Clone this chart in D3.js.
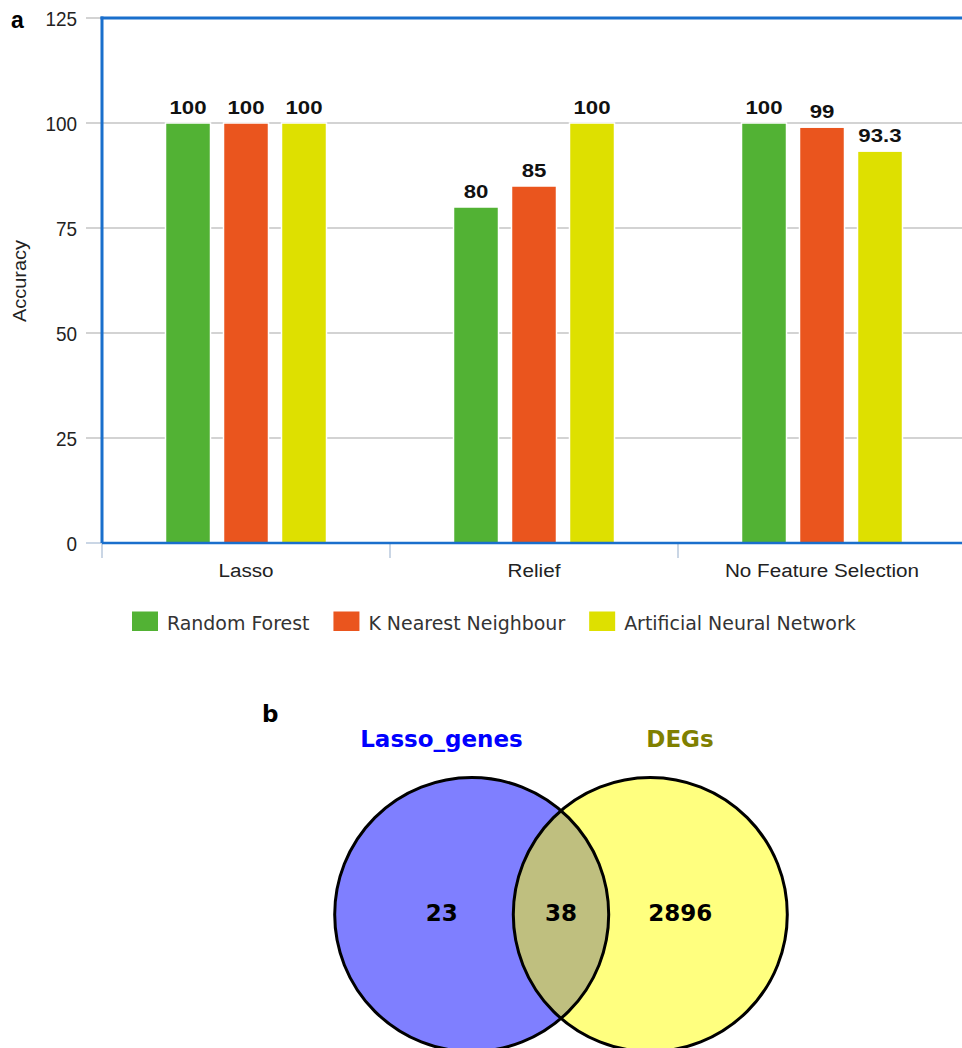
<!DOCTYPE html>
<html>
<head>
<meta charset="utf-8">
<script src="https://cdn.jsdelivr.net/npm/d3@7"></script>
<style>
  html, body { margin: 0; padding: 0; background: #fff; }
  svg { display: block; }
</style>
</head>
<body>
<svg id="fig" width="962" height="1048"></svg>
<script>
// ---- Panel a: classifier accuracy per feature-selection method ----
const categories = ["Lasso", "Relief", "No Feature Selection"];
const seriesNames = ["Random Forest", "K Nearest Neighbour", "Artificial Neural Network"];
const randomForest = [100, 80, 100];
const kNearestNeighbour = [100, 85, 99];
const artificialNeuralNetwork = [100, 100, 93.3];
const yTicks = [0, 25, 50, 75, 100, 125];

// ---- Panel b: Venn diagram of gene sets ----
const setNames = ["Lasso_genes", "DEGs"];
const setColors = ["#0000ff", "#ffff00"];
const setLabelColors = ["#0000ff", "#808000"];
const regionCounts = [23, 38, 2896]; // only Lasso, both, only DEGs

const seriesValues = [randomForest, kNearestNeighbour, artificialNeuralNetwork];
const seriesColors = ["#52b234", "#ea551e", "#dee000"];

const svg = d3.select("#fig");
const axisBlue = "#1a6fcc";
const sans = "Liberation Sans, Arial, sans-serif";

// stretch or squeeze a text's glyphs horizontally by a factor
function widen(sel, factor) {
  sel.each(function () {
    const w = this.getComputedTextLength();
    d3.select(this).attr("textLength", w * factor).attr("lengthAdjust", "spacingAndGlyphs");
  });
  return sel;
}

// plot frame
const plot = { left: 102, right: 966, top: 18, bottom: 543 };

const y = d3.scaleLinear().domain([0, 125]).range([plot.bottom, plot.top]);
const x0 = d3.scaleBand().domain(categories).range([plot.left, plot.right]).padding(0);
const groupW = 161;
const x1 = d3.scaleBand().domain(seriesNames)
  .range([(x0.bandwidth() - groupW) / 2, (x0.bandwidth() + groupW) / 2])
  .paddingInner(0.224).paddingOuter(0);

// gridlines (extend left of the frame as tick marks)
svg.append("g").selectAll("line").data(yTicks.filter(t => t > 0)).join("line")
  .attr("x1", 86).attr("x2", plot.right)
  .attr("y1", d => y(d)).attr("y2", d => y(d))
  .attr("stroke", "#c4c4c4").attr("stroke-width", 1.5);

// y tick labels
widen(svg.append("g").selectAll("text").data(yTicks).join("text")
  .attr("x", 77).attr("y", d => y(d))
  .attr("dy", "0.36em")
  .attr("text-anchor", "end")
  .attr("font-family", sans)
  .attr("font-size", 21).attr("fill", "#222")
  .text(d => d), 0.9);

// small tick at 0 left of the frame
svg.append("line").attr("x1", 86).attr("x2", plot.left)
  .attr("y1", y(0)).attr("y2", y(0))
  .attr("stroke", "#b8c8dc").attr("stroke-width", 1.5);

// category separator ticks below the axis
svg.append("g").selectAll("line").data(categories).join("line")
  .attr("x1", d => x0(d)).attr("x2", d => x0(d))
  .attr("y1", plot.bottom).attr("y2", plot.bottom + 15)
  .attr("stroke", "#b8c8dc").attr("stroke-width", 1.5);

// bars
const barData = [];
categories.forEach((c, ci) => seriesNames.forEach((s, si) =>
  barData.push({ c, s, v: seriesValues[si][ci], color: seriesColors[si] })));

const bars = svg.append("g");
bars.selectAll("rect").data(barData).join("rect")
  .attr("x", d => x0(d.c) + x1(d.s))
  .attr("y", d => y(d.v))
  .attr("width", x1.bandwidth())
  .attr("height", d => y(0) - y(d.v))
  .attr("fill", d => d.color)
  .attr("stroke", "#fff").attr("stroke-width", 1.5);

// value labels
widen(bars.selectAll("text").data(barData).join("text")
  .attr("x", d => x0(d.c) + x1(d.s) + x1.bandwidth() / 2)
  .attr("y", d => y(d.v) - 9.5)
  .attr("text-anchor", "middle")
  .attr("font-family", sans)
  .attr("font-weight", "bold")
  .attr("font-size", 18.5).attr("fill", "#111")
  .text(d => d.v), 1.2);

// blue frame: left, top, bottom
svg.append("line").attr("x1", plot.left).attr("x2", plot.left)
  .attr("y1", plot.top - 1.5).attr("y2", plot.bottom)
  .attr("stroke", axisBlue).attr("stroke-width", 3);
svg.append("line").attr("x1", plot.left - 1.5).attr("x2", plot.right)
  .attr("y1", plot.top).attr("y2", plot.top)
  .attr("stroke", axisBlue).attr("stroke-width", 3);
svg.append("line").attr("x1", plot.left).attr("x2", plot.right)
  .attr("y1", plot.bottom).attr("y2", plot.bottom)
  .attr("stroke", axisBlue).attr("stroke-width", 2.5);

// category labels
widen(svg.append("g").selectAll("text").data(categories).join("text")
  .attr("x", d => x0(d) + x0.bandwidth() / 2)
  .attr("y", 576.5)
  .attr("text-anchor", "middle")
  .attr("font-family", sans)
  .attr("font-size", 18.8).attr("fill", "#222")
  .text(d => d), 1.1);

// y axis title
widen(svg.append("text")
  .attr("transform", "translate(26,281) rotate(-90)")
  .attr("text-anchor", "middle")
  .attr("font-family", sans)
  .attr("font-size", 18.5).attr("fill", "#222")
  .text("Accuracy"), 1.08);

// panel letter a
svg.append("text").attr("x", 11).attr("y", 28)
  .attr("font-family", sans)
  .attr("font-weight", "bold").attr("font-size", 23).attr("fill", "#000")
  .text("a");

// legend
const legend = svg.append("g");
let lx = 132;
seriesNames.forEach((name, i) => {
  legend.append("rect").attr("x", lx).attr("y", 611.5)
    .attr("width", 26).attr("height", 19.5).attr("fill", seriesColors[i]);
  const t = legend.append("text").attr("x", lx + 35).attr("y", 629.5)
    .attr("font-family", "DejaVu Sans Condensed, DejaVu Sans, sans-serif")
    .style("font-stretch", "condensed")
    .attr("font-size", 19.5).attr("fill", "#333")
    .text(name);
  const w = t.node().getComputedTextLength() * 1.08;
  t.attr("textLength", w).attr("lengthAdjust", "spacingAndGlyphs");
  lx += 35 + w + 24;
});

// ---- Venn ----
const venn = { cx: 561, cy: 914.5, r: 137, half: 89.3 };
const centers = [venn.cx - venn.half, venn.cx + venn.half];

const vg = svg.append("g");
vg.selectAll("circle.fill").data(setNames).join("circle")
  .attr("class", "fill")
  .attr("cx", (d, i) => centers[i]).attr("cy", venn.cy).attr("r", venn.r)
  .attr("fill", (d, i) => setColors[i]).attr("fill-opacity", 0.5);
vg.selectAll("circle.edge").data(setNames).join("circle")
  .attr("class", "edge")
  .attr("cx", (d, i) => centers[i]).attr("cy", venn.cy).attr("r", venn.r)
  .attr("fill", "none").attr("stroke", "#000").attr("stroke-width", 3);

// region counts
const regionX = [centers[0] - 30, venn.cx, centers[1] + 30];
vg.selectAll("text.count").data(regionCounts).join("text")
  .attr("class", "count")
  .attr("x", (d, i) => regionX[i]).attr("y", 920.5)
  .attr("text-anchor", "middle")
  .attr("font-family", "DejaVu Sans, sans-serif")
  .attr("font-weight", "bold").attr("font-size", 23).attr("fill", "#000")
  .text(d => d);

// set names
const setLabelX = [441.5, 680];
vg.selectAll("text.setname").data(setNames).join("text")
  .attr("class", "setname")
  .attr("x", (d, i) => setLabelX[i]).attr("y", 747)
  .attr("text-anchor", "middle")
  .attr("font-family", "DejaVu Sans, sans-serif")
  .attr("font-weight", "bold").attr("font-size", 23)
  .attr("fill", (d, i) => setLabelColors[i])
  .text(d => d);

// panel letter b
svg.append("text").attr("x", 262).attr("y", 722)
  .attr("font-family", "DejaVu Sans, sans-serif")
  .attr("font-weight", "bold").attr("font-size", 23).attr("fill", "#000")
  .text("b");
</script>
</body>
</html>
